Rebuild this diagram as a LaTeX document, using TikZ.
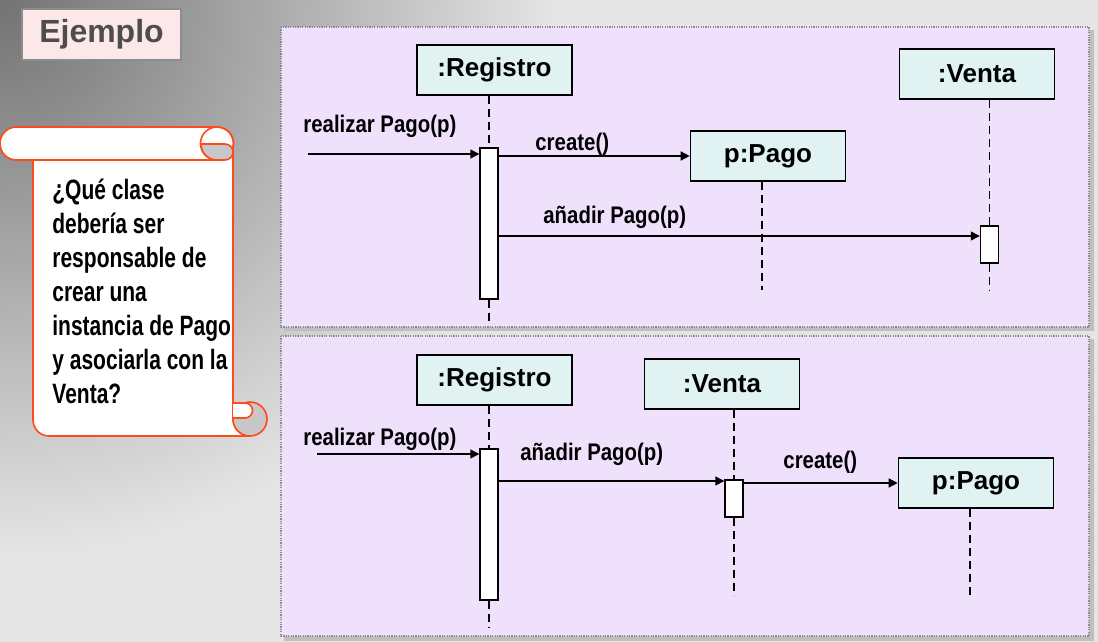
\documentclass[tikz,border=0pt]{standalone}
\usepackage{fontspec}
\setmainfont{Liberation Sans}
\newfontfamily\qfont[FakeStretch=0.75]{Liberation Sans}
\newfontfamily\mfont[FakeStretch=0.85]{Liberation Sans}
\usepackage{xcolor}
\usepackage{tikz}
\usetikzlibrary{arrows.meta,positioning,calc,shadings}
\definecolor{cFrame}{HTML}{EFE0FC}
\definecolor{cObj}{HTML}{E0F2F2}
\definecolor{cScroll}{HTML}{FF4A1A}
\definecolor{cPink}{HTML}{FCE8E8}
\definecolor{cTitle}{HTML}{4D4D4D}
\definecolor{cDot}{HTML}{8C8C8C}
\tikzset{
  objbox/.style={draw=black,fill=cObj,line width=0.8pt,minimum width=77.5pt,minimum height=25pt,inner sep=0pt,font=\fontsize{13}{15}\selectfont\bfseries},
  actbar/.style={draw=black,fill=white,line width=0.7pt,minimum width=9pt,inner sep=0pt},
  life/.style={line width=0.8pt,dash pattern=on 4pt off 2.5pt},
  msg/.style={-{Triangle[length=4.5pt,width=4.5pt]},line width=0.7pt},
  lbl/.style={font=\mfont\fontsize{12}{14}\selectfont\bfseries,inner sep=0pt,anchor=base west},
  frame/.style={fill=cFrame,draw=cDot,line width=0.6pt,dash pattern=on 0.6pt off 0.6pt},
}
\begin{document}
\begin{tikzpicture}[x=0.5pt,y=-0.5pt]
    \useasboundingbox (0,0) rectangle (1098,642);
    % background
    \begin{scope}
      \clip (0,0) rectangle (1098,642);
      \fill[black!10] (0,0) rectangle (1098,642);
      \begin{scope}[yscale=-1]
        \shade[inner color=black!55,outer color=black!10] (0,0) circle[radius=560];
      \end{scope}
    \end{scope}
    \node[draw=black!45,fill=cPink,line width=0.8pt,minimum width=79.5pt,minimum height=25.5pt,text=cTitle,font=\fontsize{16}{18}\selectfont\bfseries] (ejemplo) at (101.5,34.5) {Ejemplo};
    % scroll
    \draw[cScroll,fill=white,line width=0.8pt] (33,150) -- (33,420) arc[start angle=180,end angle=90,radius=16] -- (250,436) arc[start angle=90,end angle=180,radius=17] -- (233,150) -- cycle;
    \draw[cScroll,fill=black!22,line width=0.8pt] (250,419) circle[radius=17];
    \draw[cScroll,fill=white,line width=0.8pt] (233,403) -- (245,403) arc[start angle=-90,end angle=90,radius=7.5] -- (233,418);
    \draw[cScroll,fill=white,line width=0.8pt] (16.5,127) -- (217,127) arc[start angle=-90,end angle=90,radius=16.5] -- (16.5,160) arc[start angle=90,end angle=270,radius=16.5] -- cycle;
    \draw[cScroll,line width=0.8pt] (217,143.5) circle[radius=16.5];
    \draw[cScroll,fill=black!22,line width=0.8pt] (200.5,144) -- (225,144) arc[start angle=-90,end angle=90,radius=8] -- (217,160) arc[start angle=90,end angle=180,radius=16] -- cycle;
    \node[anchor=north west,inner sep=0pt,align=left,font=\qfont\fontsize{14}{17}\selectfont\bfseries] (pregunta) at (52,179)
      {¿Qué clase\\debería ser\\responsable de\\crear una\\instancia de Pago\\y asociarla con la\\Venta?};
    % frames
    \fill[black!25] (284,30) rectangle (1094,331);
    \fill[black!25] (284,339) rectangle (1094,641);
    \path[frame] (281,27) rectangle (1089,327);
    \path[frame] (281,336) rectangle (1089,636);
    % first diagram
    \node[objbox] (reg1) at (494.5,70) {:Registro};
    \node[objbox] (venta1) at (977,74) {:Venta};
    \node[objbox] (pago1) at (768,156) {p:Pago};
    \node[actbar,minimum height=75.5pt] (ra1) at (489,223.5) {};
    \node[actbar,minimum height=18.5pt] (va1) at (989.5,244.5) {};
    \coordinate (in1) at (308,154);
    \coordinate (pl1) at (762,290);
    \draw[life] (ra1 |- reg1.south) -- (ra1.north);
    \draw[life] (ra1.south) -- ++(0,23);
    \draw[life] (va1 |- venta1.south) -- (va1.north);
    \draw[life] (va1.south) -- ++(0,27);
    \draw[life] (pl1 |- pago1.south) -- (pl1);
    \draw[msg] (in1) -- (in1 -| ra1.west);
    \draw[msg] (ra1.east |- pago1.west) -- (pago1.west);
    \draw[msg] (ra1.east |- 0,236) -- (va1.west |- 0,236);
    \node[lbl] (m11) at (303,133) {realizar Pago(p)};
    \node[lbl] (m12) at (535,150) {create()};
    \node[lbl] (m13) at (543,223) {añadir Pago(p)};
    % second diagram
    \node[objbox] (reg2) at (494.5,380) {:Registro};
    \node[objbox] (venta2) at (722,384) {:Venta};
    \node[objbox] (pago2) at (976,483) {p:Pago};
    \node[actbar,minimum height=75.5pt] (ra2) at (489,524.5) {};
    \node[actbar,minimum height=18.5pt] (va2) at (734,498.5) {};
    \coordinate (in2) at (317,454);
    \coordinate (pl2) at (970,598);
    \draw[life] (ra2 |- reg2.south) -- (ra2.north);
    \draw[life] (ra2.south) -- ++(0,27);
    \draw[life] (va2 |- venta2.south) -- (va2.north);
    \draw[life] (va2.south) -- ++(0,78);
    \draw[life] (pl2 |- pago2.south) -- (pl2);
    \draw[msg] (in2) -- (in2 -| ra2.west);
    \draw[msg] (ra2.east |- 0,481) -- (va2.west |- 0,481);
    \draw[msg] (va2.east |- pago2.west) -- (pago2.west);
    \node[lbl] (m21) at (303,445) {realizar Pago(p)};
    \node[lbl] (m22) at (520,460) {añadir Pago(p)};
    \node[lbl] (m23) at (783,468) {create()};
\end{tikzpicture}
\end{document}
